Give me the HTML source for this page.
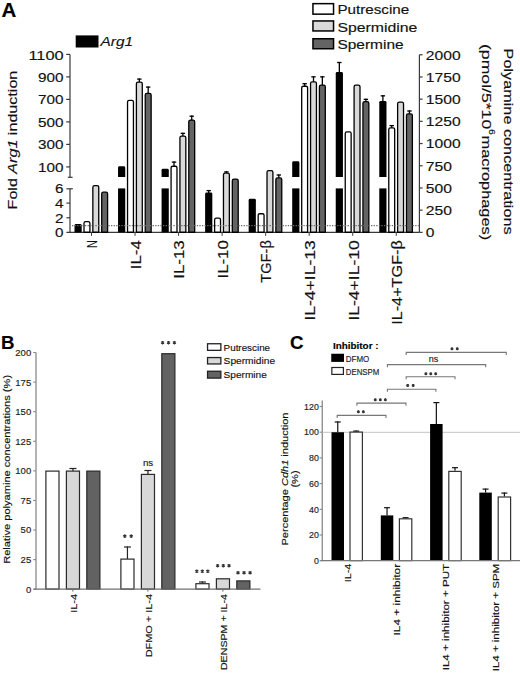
<!DOCTYPE html>
<html><head><meta charset="utf-8"><style>
html,body{margin:0;padding:0;background:#fff;}
svg{display:block;font-family:"Liberation Sans", sans-serif;}
</style></head><body>
<svg width="520" height="673" viewBox="0 0 520 673">
<rect width="520" height="673" fill="#fff"/>
<text x="1.50" y="17.10" font-size="19.6" text-anchor="start" font-weight="bold" font-style="normal" fill="#000" textLength="14.80" lengthAdjust="spacingAndGlyphs"  stroke="#000" stroke-width="0.15">A</text>
<line x1="70.00" y1="54.40" x2="70.00" y2="177.30" stroke="#3a3a3a" stroke-width="1.2" />
<line x1="67.80" y1="177.30" x2="72.60" y2="177.30" stroke="#3a3a3a" stroke-width="1.2" />
<line x1="66.20" y1="54.40" x2="70.00" y2="54.40" stroke="#3a3a3a" stroke-width="1.2" />
<line x1="66.20" y1="76.90" x2="70.00" y2="76.90" stroke="#3a3a3a" stroke-width="1.2" />
<line x1="66.20" y1="99.40" x2="70.00" y2="99.40" stroke="#3a3a3a" stroke-width="1.2" />
<line x1="66.20" y1="121.90" x2="70.00" y2="121.90" stroke="#3a3a3a" stroke-width="1.2" />
<line x1="66.20" y1="144.40" x2="70.00" y2="144.40" stroke="#3a3a3a" stroke-width="1.2" />
<line x1="66.20" y1="166.90" x2="70.00" y2="166.90" stroke="#3a3a3a" stroke-width="1.2" />
<line x1="70.00" y1="188.80" x2="70.00" y2="232.40" stroke="#3a3a3a" stroke-width="1.2" />
<line x1="66.40" y1="188.80" x2="72.80" y2="188.80" stroke="#3a3a3a" stroke-width="1.2" />
<line x1="66.40" y1="203.10" x2="70.00" y2="203.10" stroke="#3a3a3a" stroke-width="1.2" />
<line x1="66.40" y1="217.80" x2="70.00" y2="217.80" stroke="#3a3a3a" stroke-width="1.2" />
<line x1="66.40" y1="232.40" x2="419.40" y2="232.40" stroke="#3a3a3a" stroke-width="1.2" />
<line x1="419.40" y1="54.75" x2="419.40" y2="232.40" stroke="#3a3a3a" stroke-width="1.2" />
<line x1="419.40" y1="54.75" x2="422.60" y2="54.75" stroke="#3a3a3a" stroke-width="1.2" />
<line x1="419.40" y1="76.95" x2="422.60" y2="76.95" stroke="#3a3a3a" stroke-width="1.2" />
<line x1="419.40" y1="99.15" x2="422.60" y2="99.15" stroke="#3a3a3a" stroke-width="1.2" />
<line x1="419.40" y1="121.35" x2="422.60" y2="121.35" stroke="#3a3a3a" stroke-width="1.2" />
<line x1="419.40" y1="143.55" x2="422.60" y2="143.55" stroke="#3a3a3a" stroke-width="1.2" />
<line x1="419.40" y1="165.75" x2="422.60" y2="165.75" stroke="#3a3a3a" stroke-width="1.2" />
<line x1="419.40" y1="187.95" x2="422.60" y2="187.95" stroke="#3a3a3a" stroke-width="1.2" />
<line x1="419.40" y1="210.15" x2="422.60" y2="210.15" stroke="#3a3a3a" stroke-width="1.2" />
<line x1="419.40" y1="232.35" x2="422.60" y2="232.35" stroke="#3a3a3a" stroke-width="1.2" />
<text x="63.60" y="59.80" font-size="13.4" text-anchor="end" font-weight="normal" font-style="normal" fill="#111" textLength="35.20" lengthAdjust="spacingAndGlyphs"  stroke="#111" stroke-width="0.15">1100</text>
<text x="63.60" y="82.10" font-size="13.4" text-anchor="end" font-weight="normal" font-style="normal" fill="#111" textLength="25.50" lengthAdjust="spacingAndGlyphs"  stroke="#111" stroke-width="0.15">900</text>
<text x="63.60" y="104.20" font-size="13.4" text-anchor="end" font-weight="normal" font-style="normal" fill="#111" textLength="25.50" lengthAdjust="spacingAndGlyphs"  stroke="#111" stroke-width="0.15">700</text>
<text x="63.60" y="126.70" font-size="13.4" text-anchor="end" font-weight="normal" font-style="normal" fill="#111" textLength="25.50" lengthAdjust="spacingAndGlyphs"  stroke="#111" stroke-width="0.15">500</text>
<text x="63.60" y="149.20" font-size="13.4" text-anchor="end" font-weight="normal" font-style="normal" fill="#111" textLength="25.50" lengthAdjust="spacingAndGlyphs"  stroke="#111" stroke-width="0.15">300</text>
<text x="63.60" y="171.90" font-size="13.4" text-anchor="end" font-weight="normal" font-style="normal" fill="#111" textLength="25.50" lengthAdjust="spacingAndGlyphs"  stroke="#111" stroke-width="0.15">100</text>
<text x="63.60" y="192.70" font-size="13.4" text-anchor="end" font-weight="normal" font-style="normal" fill="#111" textLength="8.50" lengthAdjust="spacingAndGlyphs"  stroke="#111" stroke-width="0.15">6</text>
<text x="63.60" y="208.10" font-size="13.4" text-anchor="end" font-weight="normal" font-style="normal" fill="#111" textLength="8.50" lengthAdjust="spacingAndGlyphs"  stroke="#111" stroke-width="0.15">4</text>
<text x="63.60" y="222.80" font-size="13.4" text-anchor="end" font-weight="normal" font-style="normal" fill="#111" textLength="8.50" lengthAdjust="spacingAndGlyphs"  stroke="#111" stroke-width="0.15">2</text>
<text x="63.60" y="237.40" font-size="13.4" text-anchor="end" font-weight="normal" font-style="normal" fill="#111" textLength="8.50" lengthAdjust="spacingAndGlyphs"  stroke="#111" stroke-width="0.15">0</text>
<text x="425.80" y="59.65" font-size="13.4" text-anchor="start" font-weight="normal" font-style="normal" fill="#111" textLength="34.80" lengthAdjust="spacingAndGlyphs"  stroke="#111" stroke-width="0.15">2000</text>
<text x="425.80" y="81.85" font-size="13.4" text-anchor="start" font-weight="normal" font-style="normal" fill="#111" textLength="34.80" lengthAdjust="spacingAndGlyphs"  stroke="#111" stroke-width="0.15">1750</text>
<text x="425.80" y="104.05" font-size="13.4" text-anchor="start" font-weight="normal" font-style="normal" fill="#111" textLength="34.80" lengthAdjust="spacingAndGlyphs"  stroke="#111" stroke-width="0.15">1500</text>
<text x="425.80" y="126.25" font-size="13.4" text-anchor="start" font-weight="normal" font-style="normal" fill="#111" textLength="34.80" lengthAdjust="spacingAndGlyphs"  stroke="#111" stroke-width="0.15">1250</text>
<text x="425.80" y="148.45" font-size="13.4" text-anchor="start" font-weight="normal" font-style="normal" fill="#111" textLength="34.80" lengthAdjust="spacingAndGlyphs"  stroke="#111" stroke-width="0.15">1000</text>
<text x="425.80" y="170.65" font-size="13.4" text-anchor="start" font-weight="normal" font-style="normal" fill="#111" textLength="26.10" lengthAdjust="spacingAndGlyphs"  stroke="#111" stroke-width="0.15">750</text>
<text x="425.80" y="192.85" font-size="13.4" text-anchor="start" font-weight="normal" font-style="normal" fill="#111" textLength="26.10" lengthAdjust="spacingAndGlyphs"  stroke="#111" stroke-width="0.15">500</text>
<text x="425.80" y="215.05" font-size="13.4" text-anchor="start" font-weight="normal" font-style="normal" fill="#111" textLength="26.10" lengthAdjust="spacingAndGlyphs"  stroke="#111" stroke-width="0.15">250</text>
<text x="425.80" y="237.25" font-size="13.4" text-anchor="start" font-weight="normal" font-style="normal" fill="#111" textLength="8.70" lengthAdjust="spacingAndGlyphs"  stroke="#111" stroke-width="0.15">0</text>
<path d="M74.50 232.40V225.40Q74.50 224.00 75.90 224.00H80.30Q81.70 224.00 81.70 225.40V232.40Z" fill="#000"/>
<path d="M84.00 232.25V223.25Q84.00 221.65 85.60 221.65H88.30Q89.90 221.65 89.90 223.25V232.25Z" fill="#fff" stroke="#000" stroke-width="1.3"/>
<path d="M92.85 232.25V187.25Q92.85 185.65 94.45 185.65H97.15Q98.75 185.65 98.75 187.25V232.25Z" fill="#d9d9d9" stroke="#000" stroke-width="1.3"/>
<path d="M101.70 232.25V193.75Q101.70 192.15 103.30 192.15H106.00Q107.60 192.15 107.60 193.75V232.25Z" fill="#646464" stroke="#000" stroke-width="1.3"/>
<line x1="91.50" y1="232.40" x2="91.50" y2="235.80" stroke="#3a3a3a" stroke-width="1.0" />
<path d="M118.04 176.90V167.65Q118.04 166.25 119.44 166.25H123.84Q125.24 166.25 125.24 167.65V176.90Z" fill="#000"/>
<rect x="118.04" y="188.40" width="7.20" height="44.00" fill="#000"/>
<path d="M127.54 232.25V102.00Q127.54 100.40 129.14 100.40H131.84Q133.44 100.40 133.44 102.00V232.25Z" fill="#fff" stroke="#000" stroke-width="1.3"/>
<line x1="139.34" y1="78.50" x2="139.34" y2="82.00" stroke="#000" stroke-width="1.3" />
<line x1="137.14" y1="79.10" x2="141.54" y2="79.10" stroke="#000" stroke-width="1.3" />
<path d="M136.39 232.25V83.75Q136.39 82.15 137.99 82.15H140.69Q142.29 82.15 142.29 83.75V232.25Z" fill="#d9d9d9" stroke="#000" stroke-width="1.3"/>
<line x1="148.19" y1="86.50" x2="148.19" y2="93.25" stroke="#000" stroke-width="1.3" />
<line x1="145.99" y1="87.10" x2="150.39" y2="87.10" stroke="#000" stroke-width="1.3" />
<path d="M145.24 232.25V95.00Q145.24 93.40 146.84 93.40H149.54Q151.14 93.40 151.14 95.00V232.25Z" fill="#646464" stroke="#000" stroke-width="1.3"/>
<line x1="135.04" y1="232.40" x2="135.04" y2="235.80" stroke="#3a3a3a" stroke-width="1.0" />
<path d="M161.58 176.90V170.15Q161.58 168.75 162.98 168.75H167.38Q168.78 168.75 168.78 170.15V176.90Z" fill="#000"/>
<rect x="161.58" y="188.40" width="7.20" height="44.00" fill="#000"/>
<line x1="174.03" y1="161.50" x2="174.03" y2="166.10" stroke="#000" stroke-width="1.3" />
<line x1="171.83" y1="162.10" x2="176.23" y2="162.10" stroke="#000" stroke-width="1.3" />
<path d="M171.08 232.25V167.85Q171.08 166.25 172.68 166.25H175.38Q176.98 166.25 176.98 167.85V232.25Z" fill="#fff" stroke="#000" stroke-width="1.3"/>
<line x1="182.88" y1="132.75" x2="182.88" y2="135.90" stroke="#000" stroke-width="1.3" />
<line x1="180.68" y1="133.35" x2="185.08" y2="133.35" stroke="#000" stroke-width="1.3" />
<path d="M179.93 232.25V137.65Q179.93 136.05 181.53 136.05H184.23Q185.83 136.05 185.83 137.65V232.25Z" fill="#d9d9d9" stroke="#000" stroke-width="1.3"/>
<line x1="191.73" y1="115.60" x2="191.73" y2="119.90" stroke="#000" stroke-width="1.3" />
<line x1="189.53" y1="116.20" x2="193.93" y2="116.20" stroke="#000" stroke-width="1.3" />
<path d="M188.78 232.25V121.65Q188.78 120.05 190.38 120.05H193.08Q194.68 120.05 194.68 121.65V232.25Z" fill="#646464" stroke="#000" stroke-width="1.3"/>
<line x1="178.58" y1="232.40" x2="178.58" y2="235.80" stroke="#3a3a3a" stroke-width="1.0" />
<line x1="208.72" y1="190.00" x2="208.72" y2="193.00" stroke="#000" stroke-width="1.3" />
<line x1="206.52" y1="190.60" x2="210.92" y2="190.60" stroke="#000" stroke-width="1.3" />
<path d="M205.12 232.40V193.90Q205.12 192.50 206.52 192.50H210.92Q212.32 192.50 212.32 193.90V232.40Z" fill="#000"/>
<path d="M214.62 232.25V219.75Q214.62 218.15 216.22 218.15H218.92Q220.52 218.15 220.52 219.75V232.25Z" fill="#fff" stroke="#000" stroke-width="1.3"/>
<line x1="226.42" y1="171.30" x2="226.42" y2="173.00" stroke="#000" stroke-width="1.3" />
<line x1="224.22" y1="171.90" x2="228.62" y2="171.90" stroke="#000" stroke-width="1.3" />
<path d="M223.47 232.25V174.75Q223.47 173.15 225.07 173.15H227.77Q229.37 173.15 229.37 174.75V232.25Z" fill="#d9d9d9" stroke="#000" stroke-width="1.3"/>
<path d="M232.32 232.25V180.65Q232.32 179.05 233.92 179.05H236.62Q238.22 179.05 238.22 180.65V232.25Z" fill="#646464" stroke="#000" stroke-width="1.3"/>
<line x1="222.12" y1="232.40" x2="222.12" y2="235.80" stroke="#3a3a3a" stroke-width="1.0" />
<path d="M248.66 232.40V200.15Q248.66 198.75 250.06 198.75H254.46Q255.86 198.75 255.86 200.15V232.40Z" fill="#000"/>
<path d="M258.16 232.25V215.35Q258.16 213.75 259.76 213.75H262.46Q264.06 213.75 264.06 215.35V232.25Z" fill="#fff" stroke="#000" stroke-width="1.3"/>
<path d="M267.01 232.25V172.25Q267.01 170.65 268.61 170.65H271.31Q272.91 170.65 272.91 172.25V232.25Z" fill="#d9d9d9" stroke="#000" stroke-width="1.3"/>
<line x1="278.81" y1="174.40" x2="278.81" y2="177.75" stroke="#000" stroke-width="1.3" />
<line x1="276.61" y1="175.00" x2="281.01" y2="175.00" stroke="#000" stroke-width="1.3" />
<path d="M275.86 232.25V179.50Q275.86 177.90 277.46 177.90H280.16Q281.76 177.90 281.76 179.50V232.25Z" fill="#646464" stroke="#000" stroke-width="1.3"/>
<line x1="265.66" y1="232.40" x2="265.66" y2="235.80" stroke="#3a3a3a" stroke-width="1.0" />
<path d="M292.20 176.90V162.65Q292.20 161.25 293.60 161.25H298.00Q299.40 161.25 299.40 162.65V176.90Z" fill="#000"/>
<rect x="292.20" y="188.40" width="7.20" height="44.00" fill="#000"/>
<line x1="304.65" y1="83.10" x2="304.65" y2="86.10" stroke="#000" stroke-width="1.3" />
<line x1="302.45" y1="83.70" x2="306.85" y2="83.70" stroke="#000" stroke-width="1.3" />
<path d="M301.70 232.25V87.85Q301.70 86.25 303.30 86.25H306.00Q307.60 86.25 307.60 87.85V232.25Z" fill="#fff" stroke="#000" stroke-width="1.3"/>
<line x1="313.50" y1="76.25" x2="313.50" y2="81.75" stroke="#000" stroke-width="1.3" />
<line x1="311.30" y1="76.85" x2="315.70" y2="76.85" stroke="#000" stroke-width="1.3" />
<path d="M310.55 232.25V83.50Q310.55 81.90 312.15 81.90H314.85Q316.45 81.90 316.45 83.50V232.25Z" fill="#d9d9d9" stroke="#000" stroke-width="1.3"/>
<line x1="322.35" y1="76.25" x2="322.35" y2="84.90" stroke="#000" stroke-width="1.3" />
<line x1="320.15" y1="76.85" x2="324.55" y2="76.85" stroke="#000" stroke-width="1.3" />
<path d="M319.40 232.25V86.65Q319.40 85.05 321.00 85.05H323.70Q325.30 85.05 325.30 86.65V232.25Z" fill="#646464" stroke="#000" stroke-width="1.3"/>
<line x1="309.20" y1="232.40" x2="309.20" y2="235.80" stroke="#3a3a3a" stroke-width="1.0" />
<line x1="339.34" y1="61.90" x2="339.34" y2="72.60" stroke="#000" stroke-width="1.3" />
<line x1="337.14" y1="62.50" x2="341.54" y2="62.50" stroke="#000" stroke-width="1.3" />
<path d="M335.74 176.90V73.50Q335.74 72.10 337.14 72.10H341.54Q342.94 72.10 342.94 73.50V176.90Z" fill="#000"/>
<rect x="335.74" y="188.40" width="7.20" height="44.00" fill="#000"/>
<path d="M345.24 232.25V133.45Q345.24 131.85 346.84 131.85H349.54Q351.14 131.85 351.14 133.45V232.25Z" fill="#fff" stroke="#000" stroke-width="1.3"/>
<path d="M354.09 232.25V86.65Q354.09 85.05 355.69 85.05H358.39Q359.99 85.05 359.99 86.65V232.25Z" fill="#d9d9d9" stroke="#000" stroke-width="1.3"/>
<line x1="365.89" y1="98.75" x2="365.89" y2="101.40" stroke="#000" stroke-width="1.3" />
<line x1="363.69" y1="99.35" x2="368.09" y2="99.35" stroke="#000" stroke-width="1.3" />
<path d="M362.94 232.25V103.15Q362.94 101.55 364.54 101.55H367.24Q368.84 101.55 368.84 103.15V232.25Z" fill="#646464" stroke="#000" stroke-width="1.3"/>
<line x1="352.74" y1="232.40" x2="352.74" y2="235.80" stroke="#3a3a3a" stroke-width="1.0" />
<line x1="382.88" y1="95.25" x2="382.88" y2="101.40" stroke="#000" stroke-width="1.3" />
<line x1="380.68" y1="95.85" x2="385.08" y2="95.85" stroke="#000" stroke-width="1.3" />
<path d="M379.28 176.90V102.30Q379.28 100.90 380.68 100.90H385.08Q386.48 100.90 386.48 102.30V176.90Z" fill="#000"/>
<rect x="379.28" y="188.40" width="7.20" height="44.00" fill="#000"/>
<line x1="391.73" y1="125.00" x2="391.73" y2="127.80" stroke="#000" stroke-width="1.3" />
<line x1="389.53" y1="125.60" x2="393.93" y2="125.60" stroke="#000" stroke-width="1.3" />
<path d="M388.78 232.25V129.55Q388.78 127.95 390.38 127.95H393.08Q394.68 127.95 394.68 129.55V232.25Z" fill="#fff" stroke="#000" stroke-width="1.3"/>
<path d="M397.63 232.25V103.75Q397.63 102.15 399.23 102.15H401.93Q403.53 102.15 403.53 103.75V232.25Z" fill="#d9d9d9" stroke="#000" stroke-width="1.3"/>
<line x1="409.43" y1="110.40" x2="409.43" y2="113.70" stroke="#000" stroke-width="1.3" />
<line x1="407.23" y1="111.00" x2="411.63" y2="111.00" stroke="#000" stroke-width="1.3" />
<path d="M406.48 232.25V115.45Q406.48 113.85 408.08 113.85H410.78Q412.38 113.85 412.38 115.45V232.25Z" fill="#646464" stroke="#000" stroke-width="1.3"/>
<line x1="396.28" y1="232.40" x2="396.28" y2="235.80" stroke="#3a3a3a" stroke-width="1.0" />
<line x1="72.00" y1="225.60" x2="418.80" y2="225.60" stroke="#6a6a6a" stroke-width="1.1" stroke-dasharray="1.3 1.3"/>
<text x="97.30" y="240.20" font-size="14" text-anchor="end" font-weight="normal" font-style="normal" fill="#111" textLength="7.80" lengthAdjust="spacingAndGlyphs" transform="rotate(-90 97.30 240.20)"  stroke="#111" stroke-width="0.15">N</text>
<text x="140.84" y="240.20" font-size="14" text-anchor="end" font-weight="normal" font-style="normal" fill="#111" textLength="29.00" lengthAdjust="spacingAndGlyphs" transform="rotate(-90 140.84 240.20)"  stroke="#111" stroke-width="0.15">IL-4</text>
<text x="184.38" y="240.20" font-size="14" text-anchor="end" font-weight="normal" font-style="normal" fill="#111" textLength="38.60" lengthAdjust="spacingAndGlyphs" transform="rotate(-90 184.38 240.20)"  stroke="#111" stroke-width="0.15">IL-13</text>
<text x="227.92" y="240.20" font-size="14" text-anchor="end" font-weight="normal" font-style="normal" fill="#111" textLength="38.30" lengthAdjust="spacingAndGlyphs" transform="rotate(-90 227.92 240.20)"  stroke="#111" stroke-width="0.15">IL-10</text>
<text x="271.46" y="240.20" font-size="14" text-anchor="end" font-weight="normal" font-style="normal" fill="#111" textLength="42.50" lengthAdjust="spacingAndGlyphs" transform="rotate(-90 271.46 240.20)"  stroke="#111" stroke-width="0.15">TGF-β</text>
<text x="315.00" y="240.20" font-size="14" text-anchor="end" font-weight="normal" font-style="normal" fill="#111" textLength="80.40" lengthAdjust="spacingAndGlyphs" transform="rotate(-90 315.00 240.20)"  stroke="#111" stroke-width="0.15">IL-4+IL-13</text>
<text x="358.54" y="240.20" font-size="14" text-anchor="end" font-weight="normal" font-style="normal" fill="#111" textLength="80.40" lengthAdjust="spacingAndGlyphs" transform="rotate(-90 358.54 240.20)"  stroke="#111" stroke-width="0.15">IL-4+IL-10</text>
<text x="402.08" y="240.20" font-size="14" text-anchor="end" font-weight="normal" font-style="normal" fill="#111" textLength="84.60" lengthAdjust="spacingAndGlyphs" transform="rotate(-90 402.08 240.20)"  stroke="#111" stroke-width="0.15">IL-4+TGF-β</text>
<text x="17.40" y="209.40" font-size="13.5" text-anchor="start" font-weight="normal" font-style="normal" fill="#111" textLength="138.70" lengthAdjust="spacingAndGlyphs" transform="rotate(-90 17.40 209.40)"  stroke="#111" stroke-width="0.15">Fold <tspan font-style="italic">Arg1</tspan> induction</text>
<text x="503.50" y="48.60" font-size="13.5" text-anchor="start" font-weight="normal" font-style="normal" fill="#111" textLength="186.00" lengthAdjust="spacingAndGlyphs" transform="rotate(90 503.50 48.60)"  stroke="#111" stroke-width="0.15">Polyamine concentrations</text>
<text x="481.80" y="44.00" font-size="13.5" text-anchor="start" font-weight="normal" font-style="normal" fill="#111" textLength="85.20" lengthAdjust="spacingAndGlyphs" transform="rotate(90 481.80 44.00)"  stroke="#111" stroke-width="0.15">(pmol/5*10</text>
<text x="488.60" y="129.00" font-size="9.5" text-anchor="start" font-weight="normal" font-style="normal" fill="#111" textLength="5.80" lengthAdjust="spacingAndGlyphs" transform="rotate(90 488.60 129.00)"  stroke="#111" stroke-width="0.15">6</text>
<text x="481.80" y="135.60" font-size="13.5" text-anchor="start" font-weight="normal" font-style="normal" fill="#111" textLength="104.60" lengthAdjust="spacingAndGlyphs" transform="rotate(90 481.80 135.60)"  stroke="#111" stroke-width="0.15">macrophages)</text>
<rect x="312.95" y="3.65" width="20.60" height="10.50" fill="#fff" stroke="#000" stroke-width="1.5"/>
<text x="337.40" y="14.20" font-size="13" text-anchor="start" font-weight="normal" font-style="normal" fill="#111" textLength="71.80" lengthAdjust="spacingAndGlyphs"  stroke="#111" stroke-width="0.15">Putrescine</text>
<rect x="312.95" y="20.95" width="20.60" height="10.00" fill="#d9d9d9" stroke="#000" stroke-width="1.5"/>
<text x="337.40" y="31.70" font-size="13" text-anchor="start" font-weight="normal" font-style="normal" fill="#111" textLength="80.00" lengthAdjust="spacingAndGlyphs"  stroke="#111" stroke-width="0.15">Spermidine</text>
<rect x="312.95" y="38.75" width="20.60" height="10.00" fill="#646464" stroke="#000" stroke-width="1.5"/>
<text x="337.40" y="49.20" font-size="13" text-anchor="start" font-weight="normal" font-style="normal" fill="#111" textLength="66.20" lengthAdjust="spacingAndGlyphs"  stroke="#111" stroke-width="0.15">Spermine</text>
<rect x="75.70" y="35.40" width="22.80" height="12.10" fill="#000"/>
<text x="100.60" y="46.20" font-size="13.5" text-anchor="start" font-weight="normal" font-style="italic" fill="#111" textLength="32.50" lengthAdjust="spacingAndGlyphs"  stroke="#111" stroke-width="0.15">Arg1</text>
<text x="1.00" y="349.00" font-size="18.7" text-anchor="start" font-weight="bold" font-style="normal" fill="#000"  stroke="#000" stroke-width="0.15">B</text>
<line x1="36.00" y1="352.50" x2="36.00" y2="589.20" stroke="#8a8a8a" stroke-width="1.3" />
<line x1="33.20" y1="589.20" x2="36.00" y2="589.20" stroke="#8a8a8a" stroke-width="1.1" />
<text x="31.20" y="592.60" font-size="9" text-anchor="end" font-weight="normal" font-style="normal" fill="#222" textLength="5.30" lengthAdjust="spacingAndGlyphs"  stroke="#222" stroke-width="0.15">0</text>
<line x1="33.20" y1="559.62" x2="36.00" y2="559.62" stroke="#8a8a8a" stroke-width="1.1" />
<text x="31.20" y="563.01" font-size="9" text-anchor="end" font-weight="normal" font-style="normal" fill="#222" textLength="10.60" lengthAdjust="spacingAndGlyphs"  stroke="#222" stroke-width="0.15">25</text>
<line x1="33.20" y1="530.03" x2="36.00" y2="530.03" stroke="#8a8a8a" stroke-width="1.1" />
<text x="31.20" y="533.43" font-size="9" text-anchor="end" font-weight="normal" font-style="normal" fill="#222" textLength="10.60" lengthAdjust="spacingAndGlyphs"  stroke="#222" stroke-width="0.15">50</text>
<line x1="33.20" y1="500.45" x2="36.00" y2="500.45" stroke="#8a8a8a" stroke-width="1.1" />
<text x="31.20" y="503.85" font-size="9" text-anchor="end" font-weight="normal" font-style="normal" fill="#222" textLength="10.60" lengthAdjust="spacingAndGlyphs"  stroke="#222" stroke-width="0.15">75</text>
<line x1="33.20" y1="470.86" x2="36.00" y2="470.86" stroke="#8a8a8a" stroke-width="1.1" />
<text x="31.20" y="474.26" font-size="9" text-anchor="end" font-weight="normal" font-style="normal" fill="#222" textLength="15.90" lengthAdjust="spacingAndGlyphs"  stroke="#222" stroke-width="0.15">100</text>
<line x1="33.20" y1="441.28" x2="36.00" y2="441.28" stroke="#8a8a8a" stroke-width="1.1" />
<text x="31.20" y="444.68" font-size="9" text-anchor="end" font-weight="normal" font-style="normal" fill="#222" textLength="15.90" lengthAdjust="spacingAndGlyphs"  stroke="#222" stroke-width="0.15">125</text>
<line x1="33.20" y1="411.69" x2="36.00" y2="411.69" stroke="#8a8a8a" stroke-width="1.1" />
<text x="31.20" y="415.09" font-size="9" text-anchor="end" font-weight="normal" font-style="normal" fill="#222" textLength="15.90" lengthAdjust="spacingAndGlyphs"  stroke="#222" stroke-width="0.15">150</text>
<line x1="33.20" y1="382.11" x2="36.00" y2="382.11" stroke="#8a8a8a" stroke-width="1.1" />
<text x="31.20" y="385.50" font-size="9" text-anchor="end" font-weight="normal" font-style="normal" fill="#222" textLength="15.90" lengthAdjust="spacingAndGlyphs"  stroke="#222" stroke-width="0.15">175</text>
<line x1="33.20" y1="352.52" x2="36.00" y2="352.52" stroke="#8a8a8a" stroke-width="1.1" />
<text x="31.20" y="355.92" font-size="9" text-anchor="end" font-weight="normal" font-style="normal" fill="#222" textLength="15.90" lengthAdjust="spacingAndGlyphs"  stroke="#222" stroke-width="0.15">200</text>
<rect x="45.90" y="471.10" width="13.10" height="118.00" fill="#fff" stroke="#2a2a2a" stroke-width="1.2"/>
<line x1="72.95" y1="468.00" x2="72.95" y2="471.00" stroke="#222" stroke-width="1.2" />
<line x1="69.45" y1="468.50" x2="76.45" y2="468.50" stroke="#222" stroke-width="1.2" />
<rect x="66.40" y="471.10" width="13.10" height="118.00" fill="#d8d8d8" stroke="#2a2a2a" stroke-width="1.2"/>
<rect x="86.80" y="471.10" width="13.10" height="118.00" fill="#626262" stroke="#2a2a2a" stroke-width="1.2"/>
<line x1="72.90" y1="589.20" x2="72.90" y2="591.60" stroke="#666" stroke-width="1.0" />
<line x1="127.45" y1="546.50" x2="127.45" y2="559.00" stroke="#222" stroke-width="1.2" />
<line x1="123.95" y1="547.00" x2="130.95" y2="547.00" stroke="#222" stroke-width="1.2" />
<rect x="120.90" y="559.10" width="13.10" height="30.00" fill="#fff" stroke="#2a2a2a" stroke-width="1.2"/>
<line x1="147.95" y1="470.00" x2="147.95" y2="474.30" stroke="#222" stroke-width="1.2" />
<line x1="144.45" y1="470.50" x2="151.45" y2="470.50" stroke="#222" stroke-width="1.2" />
<rect x="141.40" y="474.40" width="13.10" height="114.70" fill="#d8d8d8" stroke="#2a2a2a" stroke-width="1.2"/>
<rect x="161.80" y="353.70" width="13.10" height="235.40" fill="#626262" stroke="#2a2a2a" stroke-width="1.2"/>
<line x1="147.90" y1="589.20" x2="147.90" y2="591.60" stroke="#666" stroke-width="1.0" />
<line x1="202.45" y1="581.50" x2="202.45" y2="583.60" stroke="#222" stroke-width="1.2" />
<line x1="198.95" y1="582.00" x2="205.95" y2="582.00" stroke="#222" stroke-width="1.2" />
<rect x="195.90" y="583.70" width="13.10" height="5.40" fill="#fff" stroke="#2a2a2a" stroke-width="1.2"/>
<rect x="216.40" y="578.80" width="13.10" height="10.30" fill="#d8d8d8" stroke="#2a2a2a" stroke-width="1.2"/>
<rect x="236.80" y="580.90" width="13.10" height="8.20" fill="#626262" stroke="#2a2a2a" stroke-width="1.2"/>
<line x1="222.90" y1="589.20" x2="222.90" y2="591.60" stroke="#666" stroke-width="1.0" />
<line x1="33.60" y1="589.20" x2="260.40" y2="589.20" stroke="#707070" stroke-width="1.3" />
<path d="M162.60 340.90L162.60 344.50M161.04 341.80L164.16 343.60M164.16 341.80L161.04 343.60M168.50 340.90L168.50 344.50M166.94 341.80L170.06 343.60M170.06 341.80L166.94 343.60M174.40 340.90L174.40 344.50M172.84 341.80L175.96 343.60M175.96 341.80L172.84 343.60" stroke="#333" stroke-width="1.15" fill="none"/>
<path d="M124.80 534.35L124.80 537.95M123.24 535.25L126.36 537.05M126.36 535.25L123.24 537.05M131.20 534.35L131.20 537.95M129.64 535.25L132.76 537.05M132.76 535.25L129.64 537.05" stroke="#333" stroke-width="1.15" fill="none"/>
<path d="M196.80 569.45L196.80 573.05M195.24 570.35L198.36 572.15M198.36 570.35L195.24 572.15M202.30 569.45L202.30 573.05M200.74 570.35L203.86 572.15M203.86 570.35L200.74 572.15M207.80 569.45L207.80 573.05M206.24 570.35L209.36 572.15M209.36 570.35L206.24 572.15" stroke="#333" stroke-width="1.15" fill="none"/>
<path d="M217.60 563.90L217.60 567.50M216.04 564.80L219.16 566.60M219.16 564.80L216.04 566.60M223.30 563.90L223.30 567.50M221.74 564.80L224.86 566.60M224.86 564.80L221.74 566.60M229.00 563.90L229.00 567.50M227.44 564.80L230.56 566.60M230.56 564.80L227.44 566.60" stroke="#333" stroke-width="1.15" fill="none"/>
<path d="M238.00 570.95L238.00 574.55M236.44 571.85L239.56 573.65M239.56 571.85L236.44 573.65M244.05 570.95L244.05 574.55M242.49 571.85L245.61 573.65M245.61 571.85L242.49 573.65M250.10 570.95L250.10 574.55M248.54 571.85L251.66 573.65M251.66 571.85L248.54 573.65" stroke="#333" stroke-width="1.15" fill="none"/>
<text x="148.10" y="465.70" font-size="9" text-anchor="middle" font-weight="normal" font-style="normal" fill="#222" textLength="10.30" lengthAdjust="spacingAndGlyphs"  stroke="#222" stroke-width="0.15">ns</text>
<rect x="207.55" y="343.75" width="13.30" height="6.60" fill="#fff" stroke="#222" stroke-width="1.3"/>
<text x="223.60" y="350.60" font-size="9.9" text-anchor="start" font-weight="normal" font-style="normal" fill="#111" textLength="46.50" lengthAdjust="spacingAndGlyphs"  stroke="#111" stroke-width="0.15">Putrescine</text>
<rect x="207.55" y="357.55" width="13.30" height="6.40" fill="#d8d8d8" stroke="#222" stroke-width="1.3"/>
<text x="223.60" y="364.00" font-size="9.9" text-anchor="start" font-weight="normal" font-style="normal" fill="#111" textLength="51.50" lengthAdjust="spacingAndGlyphs"  stroke="#111" stroke-width="0.15">Spermidine</text>
<rect x="207.55" y="371.25" width="13.30" height="6.85" fill="#626262" stroke="#222" stroke-width="1.3"/>
<text x="223.60" y="377.75" font-size="9.9" text-anchor="start" font-weight="normal" font-style="normal" fill="#111" textLength="43.25" lengthAdjust="spacingAndGlyphs"  stroke="#111" stroke-width="0.15">Spermine</text>
<text x="76.90" y="594.00" font-size="9" text-anchor="end" font-weight="normal" font-style="normal" fill="#111" textLength="18.70" lengthAdjust="spacingAndGlyphs" transform="rotate(-90 76.90 594.00)"  stroke="#111" stroke-width="0.15">IL-4</text>
<text x="152.20" y="594.00" font-size="9" text-anchor="end" font-weight="normal" font-style="normal" fill="#111" textLength="63.30" lengthAdjust="spacingAndGlyphs" transform="rotate(-90 152.20 594.00)"  stroke="#111" stroke-width="0.15">DFMO + IL-4</text>
<text x="226.70" y="594.00" font-size="9" text-anchor="end" font-weight="normal" font-style="normal" fill="#111" textLength="76.10" lengthAdjust="spacingAndGlyphs" transform="rotate(-90 226.70 594.00)"  stroke="#111" stroke-width="0.15">DENSPM + IL-4</text>
<text x="9.80" y="563.80" font-size="9.2" text-anchor="start" font-weight="normal" font-style="normal" fill="#111" textLength="188.90" lengthAdjust="spacingAndGlyphs" transform="rotate(-90 9.80 563.80)"  stroke="#111" stroke-width="0.15">Relative polyamine concentrations (%)</text>
<text x="290.00" y="348.80" font-size="18.7" text-anchor="start" font-weight="bold" font-style="normal" fill="#000"  stroke="#000" stroke-width="0.15">C</text>
<text x="333.00" y="348.80" font-size="9.3" text-anchor="start" font-weight="bold" font-style="normal" fill="#000" textLength="45.50" lengthAdjust="spacingAndGlyphs"  stroke="#000" stroke-width="0.15">Inhibitor :</text>
<rect x="331.25" y="353.75" width="12.75" height="8.15" fill="#000"/>
<text x="345.80" y="361.60" font-size="9" text-anchor="start" font-weight="normal" font-style="normal" fill="#222" textLength="23.50" lengthAdjust="spacingAndGlyphs"  stroke="#222" stroke-width="0.15">DFMO</text>
<rect x="331.85" y="367.50" width="11.55" height="6.90" fill="#fff" stroke="#222" stroke-width="1.2"/>
<text x="345.80" y="374.50" font-size="9" text-anchor="start" font-weight="normal" font-style="normal" fill="#222" textLength="33.50" lengthAdjust="spacingAndGlyphs"  stroke="#222" stroke-width="0.15">DENSPM</text>
<line x1="322.25" y1="400.60" x2="322.25" y2="560.70" stroke="#888" stroke-width="1.3" />
<line x1="322.25" y1="432.30" x2="520.00" y2="432.30" stroke="#c4c4c4" stroke-width="1.0" />
<line x1="319.60" y1="560.70" x2="322.25" y2="560.70" stroke="#888" stroke-width="1.1" />
<text x="318.80" y="563.90" font-size="8.6" text-anchor="end" font-weight="normal" font-style="normal" fill="#222" textLength="4.90" lengthAdjust="spacingAndGlyphs"  stroke="#222" stroke-width="0.15">0</text>
<line x1="319.60" y1="535.00" x2="322.25" y2="535.00" stroke="#888" stroke-width="1.1" />
<text x="318.80" y="538.20" font-size="8.6" text-anchor="end" font-weight="normal" font-style="normal" fill="#222" textLength="9.80" lengthAdjust="spacingAndGlyphs"  stroke="#222" stroke-width="0.15">20</text>
<line x1="319.60" y1="509.30" x2="322.25" y2="509.30" stroke="#888" stroke-width="1.1" />
<text x="318.80" y="512.50" font-size="8.6" text-anchor="end" font-weight="normal" font-style="normal" fill="#222" textLength="9.80" lengthAdjust="spacingAndGlyphs"  stroke="#222" stroke-width="0.15">40</text>
<line x1="319.60" y1="483.60" x2="322.25" y2="483.60" stroke="#888" stroke-width="1.1" />
<text x="318.80" y="486.80" font-size="8.6" text-anchor="end" font-weight="normal" font-style="normal" fill="#222" textLength="9.80" lengthAdjust="spacingAndGlyphs"  stroke="#222" stroke-width="0.15">60</text>
<line x1="319.60" y1="457.90" x2="322.25" y2="457.90" stroke="#888" stroke-width="1.1" />
<text x="318.80" y="461.10" font-size="8.6" text-anchor="end" font-weight="normal" font-style="normal" fill="#222" textLength="9.80" lengthAdjust="spacingAndGlyphs"  stroke="#222" stroke-width="0.15">80</text>
<line x1="319.60" y1="432.20" x2="322.25" y2="432.20" stroke="#888" stroke-width="1.1" />
<text x="318.80" y="435.40" font-size="8.6" text-anchor="end" font-weight="normal" font-style="normal" fill="#222" textLength="14.70" lengthAdjust="spacingAndGlyphs"  stroke="#222" stroke-width="0.15">100</text>
<line x1="319.60" y1="406.50" x2="322.25" y2="406.50" stroke="#888" stroke-width="1.1" />
<text x="318.80" y="409.70" font-size="8.6" text-anchor="end" font-weight="normal" font-style="normal" fill="#222" textLength="14.70" lengthAdjust="spacingAndGlyphs"  stroke="#222" stroke-width="0.15">120</text>
<line x1="337.75" y1="421.50" x2="337.75" y2="432.25" stroke="#111" stroke-width="1.2" />
<line x1="334.75" y1="422.00" x2="340.75" y2="422.00" stroke="#111" stroke-width="1.2" />
<rect x="331.50" y="432.25" width="12.50" height="128.45" fill="#000"/>
<line x1="356.20" y1="430.60" x2="356.20" y2="431.50" stroke="#111" stroke-width="1.2" />
<line x1="353.20" y1="431.10" x2="359.20" y2="431.10" stroke="#111" stroke-width="1.2" />
<rect x="350.00" y="432.10" width="12.40" height="128.50" fill="#fff" stroke="#333" stroke-width="1.2"/>
<line x1="387.05" y1="507.20" x2="387.05" y2="515.40" stroke="#111" stroke-width="1.2" />
<line x1="384.05" y1="507.70" x2="390.05" y2="507.70" stroke="#111" stroke-width="1.2" />
<rect x="380.80" y="515.40" width="12.50" height="45.30" fill="#000"/>
<line x1="405.60" y1="517.20" x2="405.60" y2="518.20" stroke="#111" stroke-width="1.2" />
<line x1="402.60" y1="517.70" x2="408.60" y2="517.70" stroke="#111" stroke-width="1.2" />
<rect x="399.40" y="518.80" width="12.40" height="41.80" fill="#fff" stroke="#333" stroke-width="1.2"/>
<line x1="436.35" y1="402.10" x2="436.35" y2="424.00" stroke="#111" stroke-width="1.2" />
<line x1="433.35" y1="402.60" x2="439.35" y2="402.60" stroke="#111" stroke-width="1.2" />
<rect x="430.10" y="424.00" width="12.50" height="136.70" fill="#000"/>
<line x1="455.00" y1="467.20" x2="455.00" y2="470.80" stroke="#111" stroke-width="1.2" />
<line x1="452.00" y1="467.70" x2="458.00" y2="467.70" stroke="#111" stroke-width="1.2" />
<rect x="448.80" y="471.40" width="12.40" height="89.20" fill="#fff" stroke="#333" stroke-width="1.2"/>
<line x1="485.55" y1="488.60" x2="485.55" y2="492.60" stroke="#111" stroke-width="1.2" />
<line x1="482.55" y1="489.10" x2="488.55" y2="489.10" stroke="#111" stroke-width="1.2" />
<rect x="479.30" y="492.60" width="12.50" height="68.10" fill="#000"/>
<line x1="504.40" y1="492.60" x2="504.40" y2="496.40" stroke="#111" stroke-width="1.2" />
<line x1="501.40" y1="493.10" x2="507.40" y2="493.10" stroke="#111" stroke-width="1.2" />
<rect x="498.20" y="497.00" width="12.40" height="63.60" fill="#fff" stroke="#333" stroke-width="1.2"/>
<line x1="320.60" y1="560.70" x2="520.00" y2="560.70" stroke="#777" stroke-width="1.3" />
<path d="M406.20 355.00 V352.40 H506.30 V355.00" fill="none" stroke="#777" stroke-width="1.1"/>
<path d="M387.40 367.20 V364.60 H485.70 V367.20" fill="none" stroke="#777" stroke-width="1.1"/>
<path d="M406.20 379.30 V376.70 H455.00 V379.30" fill="none" stroke="#777" stroke-width="1.1"/>
<path d="M387.40 391.80 V389.20 H435.90 V391.80" fill="none" stroke="#777" stroke-width="1.1"/>
<path d="M356.90 405.70 V403.10 H406.00 V405.70" fill="none" stroke="#777" stroke-width="1.1"/>
<path d="M337.20 418.00 V415.40 H386.00 V418.00" fill="none" stroke="#777" stroke-width="1.1"/>
<path d="M452.00 347.20L452.00 350.20M450.70 347.95L453.30 349.45M453.30 347.95L450.70 349.45M457.30 347.20L457.30 350.20M456.00 347.95L458.60 349.45M458.60 347.95L456.00 349.45" stroke="#333" stroke-width="1.15" fill="none"/>
<path d="M425.90 372.15L425.90 375.15M424.60 372.90L427.20 374.40M427.20 372.90L424.60 374.40M430.80 372.15L430.80 375.15M429.50 372.90L432.10 374.40M432.10 372.90L429.50 374.40M435.70 372.15L435.70 375.15M434.40 372.90L437.00 374.40M437.00 372.90L434.40 374.40" stroke="#333" stroke-width="1.15" fill="none"/>
<path d="M407.70 384.05L407.70 387.05M406.40 384.80L409.00 386.30M409.00 384.80L406.40 386.30M413.20 384.05L413.20 387.05M411.90 384.80L414.50 386.30M414.50 384.80L411.90 386.30" stroke="#333" stroke-width="1.15" fill="none"/>
<path d="M375.30 398.35L375.30 401.35M374.00 399.10L376.60 400.60M376.60 399.10L374.00 400.60M380.35 398.35L380.35 401.35M379.05 399.10L381.65 400.60M381.65 399.10L379.05 400.60M385.40 398.35L385.40 401.35M384.10 399.10L386.70 400.60M386.70 399.10L384.10 400.60" stroke="#333" stroke-width="1.15" fill="none"/>
<path d="M358.40 410.25L358.40 413.25M357.10 411.00L359.70 412.50M359.70 411.00L357.10 412.50M363.40 410.25L363.40 413.25M362.10 411.00L364.70 412.50M364.70 411.00L362.10 412.50" stroke="#333" stroke-width="1.15" fill="none"/>
<text x="433.60" y="362.40" font-size="9" text-anchor="middle" font-weight="normal" font-style="normal" fill="#222" textLength="9.60" lengthAdjust="spacingAndGlyphs"  stroke="#222" stroke-width="0.15">ns</text>
<text x="350.70" y="563.80" font-size="8.4" text-anchor="end" font-weight="normal" font-style="normal" fill="#111" textLength="18.50" lengthAdjust="spacingAndGlyphs" transform="rotate(-90 350.70 563.80)"  stroke="#111" stroke-width="0.15">IL-4</text>
<text x="399.90" y="563.80" font-size="8.4" text-anchor="end" font-weight="normal" font-style="normal" fill="#111" textLength="71.70" lengthAdjust="spacingAndGlyphs" transform="rotate(-90 399.90 563.80)"  stroke="#111" stroke-width="0.15">IL4 + inhibitor</text>
<text x="449.40" y="563.80" font-size="8.4" text-anchor="end" font-weight="normal" font-style="normal" fill="#111" textLength="106.50" lengthAdjust="spacingAndGlyphs" transform="rotate(-90 449.40 563.80)"  stroke="#111" stroke-width="0.15">IL4 + inhibitor + PUT</text>
<text x="498.80" y="563.80" font-size="8.4" text-anchor="end" font-weight="normal" font-style="normal" fill="#111" textLength="107.50" lengthAdjust="spacingAndGlyphs" transform="rotate(-90 498.80 563.80)"  stroke="#111" stroke-width="0.15">IL4 + inhibitor + SPM</text>
<text x="287.60" y="479.00" font-size="8.8" text-anchor="middle" font-weight="normal" font-style="normal" fill="#111" textLength="133.00" lengthAdjust="spacingAndGlyphs" transform="rotate(-90 287.60 479.00)"  stroke="#111" stroke-width="0.15">Percentage <tspan font-style="italic">Cdh1</tspan> induction</text>
<text x="297.80" y="479.00" font-size="9.4" text-anchor="middle" font-weight="normal" font-style="normal" fill="#111" textLength="17.20" lengthAdjust="spacingAndGlyphs" transform="rotate(-90 297.80 479.00)"  stroke="#111" stroke-width="0.15">(%)</text>
</svg>
</body></html>
